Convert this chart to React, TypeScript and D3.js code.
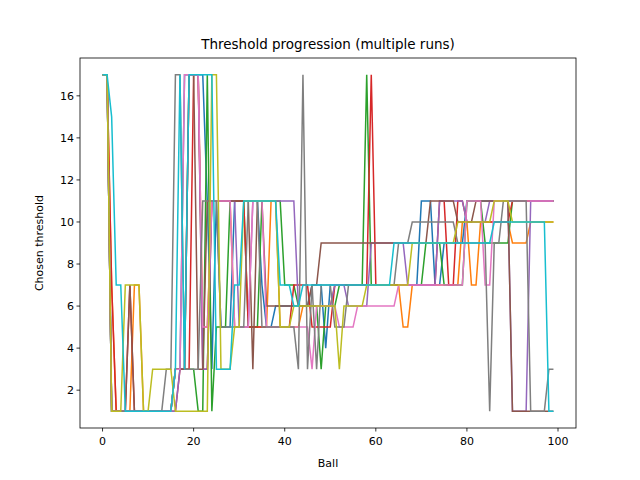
import React from 'react';
import * as d3 from 'd3';

// each run is [threshold, number of balls]
const runs: [number, number][][] = [
  [[17,2],[1,14],[3,2],[17,5],[11,1],[3,1],[11,1],[5,3],[11,6],[7,1],[5,2],[6,8],[7,3],[4,1],[7,20],[11,3],[7,2],[9,5],[11,20]],
  [[17,2],[7,1],[1,4],[7,2],[1,7],[3,3],[17,3],[5,2],[11,5],[5,8],[11,2],[5,5],[6,7],[7,15],[5,2],[7,11],[10,2],[7,2],[10,7],[9,4],[10,6]],
  [[17,2],[1,14],[3,5],[1,2],[17,1],[1,1],[5,3],[11,4],[5,3],[11,5],[7,3],[6,5],[3,1],[6,3],[7,6],[17,1],[7,12],[9,4],[7,5],[11,4],[9,6],[11,10]],
  [[17,2],[7,1],[1,3],[7,1],[1,10],[3,3],[17,2],[3,2],[11,8],[5,10],[7,4],[5,5],[7,8],[17,1],[7,14],[11,2],[7,2],[11,2],[10,10],[11,10]],
  [[17,2],[1,15],[3,2],[17,3],[3,2],[11,6],[5,3],[11,10],[6,8],[7,3],[6,5],[9,8],[7,7],[11,6],[10,5],[11,5],[1,4],[11,6]],
  [[17,2],[1,4],[7,1],[1,9],[3,3],[17,2],[3,2],[11,10],[3,1],[11,2],[6,10],[7,2],[9,24],[11,6],[10,4],[11,8],[1,6]],
  [[17,2],[1,14],[3,2],[17,4],[5,2],[11,5],[5,4],[11,3],[5,10],[3,1],[6,5],[5,4],[6,9],[7,15],[11,4],[7,2],[11,14]],
  [[17,2],[1,12],[3,2],[17,2],[3,4],[11,4],[5,6],[11,3],[5,8],[3,1],[17,1],[3,1],[7,1],[3,1],[7,3],[5,3],[7,11],[9,3],[10,10],[9,7],[1,1],[9,2],[11,6],[1,4],[3,2]],
  [[17,2],[1,3],[7,4],[1,2],[3,5],[1,8],[17,2],[3,3],[5,2],[11,8],[5,3],[6,10],[3,1],[6,5],[7,10],[9,10],[10,8],[11,4],[10,10]],
  [[17,2],[15,1],[7,2],[1,11],[3,1],[17,1],[3,1],[17,6],[3,4],[7,2],[11,8],[7,3],[6,2],[7,20],[9,22],[10,12],[1,2]],
];

const colors = ['#1f77b4','#ff7f0e','#2ca02c','#d62728','#9467bd','#8c564b','#e377c2','#7f7f7f','#bcbd22','#17becf'];
const xTicks = [0, 20, 40, 60, 80, 100];
const yTicks = [2, 4, 6, 8, 10, 12, 14, 16];

const expand = (r: [number, number][]) => {
  const out: number[] = [];
  r.forEach(([v, n]) => { for (let i = 0; i < n; i++) out.push(v); });
  while (out.length < 100) out.push(out[out.length - 1]);
  return out.slice(0, 100);
};

export default function App() {
  const W = 640, H = 480;
  const m = { l: 80, r: 576, t: 58, b: 428 };
  const x = d3.scaleLinear().domain([-4.95, 103.95]).range([m.l, m.r]);
  const y = d3.scaleLinear().domain([0.2, 17.8]).range([m.b, m.t]);
  const line = d3.line<number>().x((_, i) => x(i)).y(d => y(d));
  const font = 'DejaVu Sans, sans-serif';

  return (
    <svg width={W} height={H} style={{ position: 'absolute', left: 0, top: 0, background: '#fff' }} fontFamily={font}>
      <defs>
        <clipPath id="plot"><rect x={m.l} y={m.t} width={m.r - m.l} height={m.b - m.t} /></clipPath>
      </defs>
      <g clipPath="url(#plot)">
        {runs.map((r, i) => (
          <path key={i} d={line(expand(r)) || ''} fill="none" stroke={colors[i]} strokeWidth={1.5} />
        ))}
      </g>
      <rect x={m.l} y={m.t} width={m.r - m.l} height={m.b - m.t} fill="none" stroke="#000" strokeWidth={0.8} />
      {xTicks.map(t => (
        <g key={t}>
          <line x1={x(t)} x2={x(t)} y1={m.b} y2={m.b + 3.5} stroke="#000" strokeWidth={0.8} />
          <text x={x(t)} y={m.b + 17} fontSize={11} textAnchor="middle">{t}</text>
        </g>
      ))}
      {yTicks.map(t => (
        <g key={t}>
          <line x1={m.l - 3.5} x2={m.l} y1={y(t)} y2={y(t)} stroke="#000" strokeWidth={0.8} />
          <text x={m.l - 6} y={y(t) + 4} fontSize={11} textAnchor="end">{t}</text>
        </g>
      ))}
      <text x={(m.l + m.r) / 2} y={467} fontSize={11} textAnchor="middle">Ball</text>
      <text transform={`translate(43,${(m.t + m.b) / 2}) rotate(-90)`} fontSize={11} textAnchor="middle">Chosen threshold</text>
      <text x={(m.l + m.r) / 2} y={49} fontSize={13.5} textAnchor="middle">Threshold progression (multiple runs)</text>
    </svg>
  );
}
